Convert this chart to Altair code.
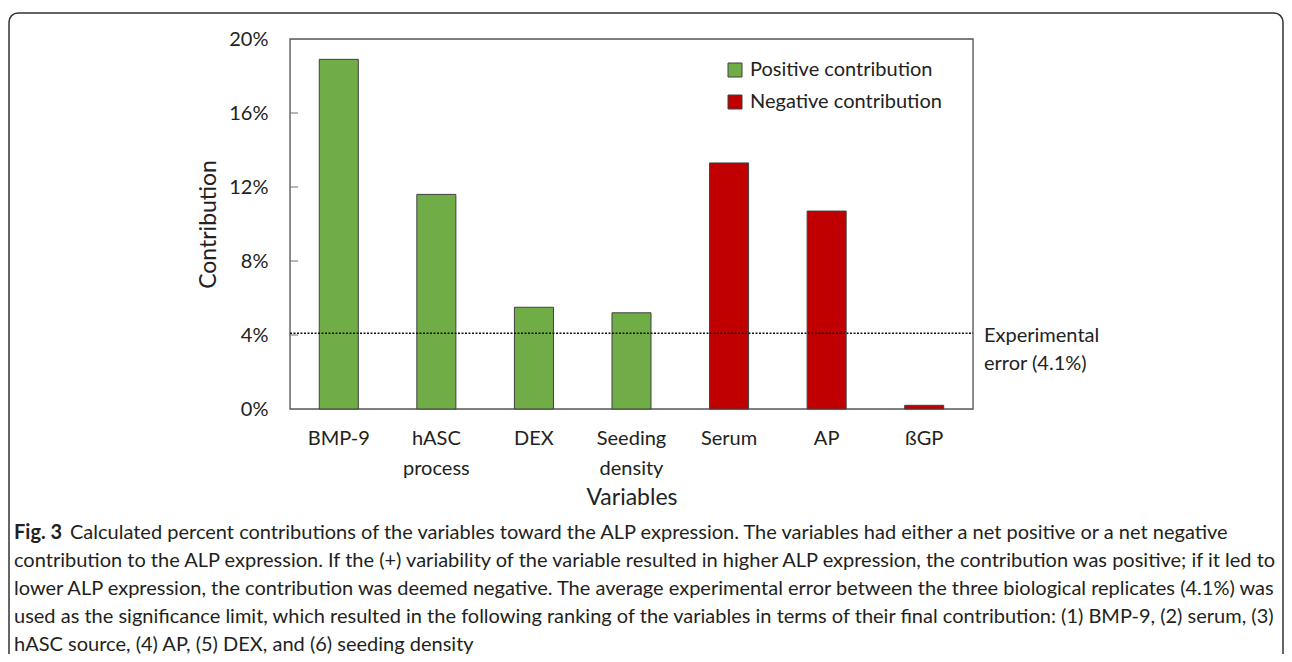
import altair as alt
import pandas as pd

# ---------------- data ----------------
categories = ["BMP-9", "hASC\nprocess", "DEX", "Seeding\ndensity", "Serum", "AP", "ßGP"]
contributions = [18.9, 11.6, 5.5, 5.2, 13.3, 10.7, 0.2]
effects = ["Positive contribution", "Positive contribution", "Positive contribution",
           "Positive contribution", "Negative contribution", "Negative contribution",
           "Negative contribution"]
effect_order = ["Positive contribution", "Negative contribution"]
effect_colors = ["#70AD47", "#C00000"]
y_ticks = [0, 4, 8, 12, 16, 20]
experimental_error = [4.1]
error_label = ["Experimental", "error (4.1%)"]
fig_label = "Fig. 3"
caption_lines = [
    "Calculated percent contributions of the variables toward the ALP expression. The variables had either a net positive or a net negative",
    "contribution to the ALP expression. If the (+) variability of the variable resulted in higher ALP expression, the contribution was positive; if it led to",
    "lower ALP expression, the contribution was deemed negative. The average experimental error between the three biological replicates (4.1%) was",
    "used as the significance limit, which resulted in the following ranking of the variables in terms of their final contribution: (1) BMP-9, (2) serum, (3)",
    "hASC source, (4) AP, (5) DEX, and (6) seeding density",
]

CHART_FONT = "Lato"
CAP_FONT = "Lato"
CAP_SIZE = 20
TXT = "#222222"

df = pd.DataFrame({"Variable": categories, "Contribution": contributions, "Effect": effects})
tick_df = pd.DataFrame({"Contribution": y_ticks[1:-1]})
err_df = pd.DataFrame({"Contribution": experimental_error})
one = pd.DataFrame({"a": [0]})

x_enc = alt.X(
    "Variable:N",
    sort=categories,
    scale=alt.Scale(domain=categories, paddingInner=0.6, paddingOuter=0.3),
    axis=alt.Axis(
        title="Variables", domain=False, ticks=False, labelAngle=0,
        labelExpr="split(datum.label, '\\n')", labelLineHeight=30,
        labelFontSize=20, labelPadding=19, labelColor=TXT, labelFont=CHART_FONT,
        titleFontSize=23, titleFontWeight="normal", titleColor=TXT, titleFont=CHART_FONT,
        titleY=88, titleBaseline="middle",
    ),
)
y_scale = alt.Scale(domain=[0, 20], nice=False, zero=True)
y_enc = alt.Y(
    "Contribution:Q",
    scale=y_scale,
    axis=alt.Axis(
        title="Contribution", values=y_ticks, grid=False, domain=False,
        ticks=True, tickSize=0, labelPadding=22, labelExpr="datum.value + '%'",
        labelFontSize=20, labelColor=TXT, labelFont=CHART_FONT,
        titleFontSize=23, titleFontWeight="normal", titleColor=TXT, titleFont=CHART_FONT,
        titleX=-82, titleY=185, titleBaseline="middle", titleAlign="center", titleAngle=270,
    ),
)

plot_box = alt.Chart(one).mark_rect(
    fillOpacity=0, stroke="#595959", strokeWidth=1.3
).encode(x=alt.value(0), x2=alt.value(683), y=alt.value(0), y2=alt.value(370))

bars = alt.Chart(df).mark_bar(stroke="#404040", strokeWidth=1).encode(
    x=x_enc,
    y=y_enc,
    color=alt.Color(
        "Effect:N",
        scale=alt.Scale(domain=effect_order, range=effect_colors),
        legend=alt.Legend(
            title=None, orient="none", legendX=435, legendY=21,
            symbolType="square", symbolSize=196, symbolStrokeColor="#404040",
            symbolStrokeWidth=1, symbolOpacity=1, labelFontSize=20, labelColor=TXT,
            labelFont=CHART_FONT, labelOffset=5, rowPadding=12, labelLimit=400,
        ),
    ),
)

inner_ticks = alt.Chart(tick_df).mark_rule(color="#707070", strokeWidth=1).encode(
    y=alt.Y("Contribution:Q", scale=y_scale), x=alt.value(0), x2=alt.value(8)
)

err_line = alt.Chart(err_df).mark_rule(color="#111111", strokeWidth=1.5, strokeDash=[2, 1.5]).encode(
    y=alt.Y("Contribution:Q", scale=y_scale), x=alt.value(0), x2=alt.value(683)
)

err_text = alt.Chart(err_df).mark_text(
    align="left", baseline="middle", fontSize=20, font=CHART_FONT, color=TXT,
    lineHeight=28, dy=3,
).encode(
    y=alt.Y("Contribution:Q", scale=y_scale), x=alt.value(694), text=alt.value(error_label)
)

border = alt.Chart(one).mark_rect(
    fillOpacity=0, stroke="#333333", strokeWidth=1.5, cornerRadius=9
).encode(x=alt.value(-281), x2=alt.value(993), y=alt.value(-26), y2=alt.value(700))

CAP_Y0 = 494
CAP_DY = 28
cap_layers = []
for i, line in enumerate(caption_lines):
    x0 = -220 if i == 0 else -276
    cap_layers.append(
        alt.Chart(pd.DataFrame({"line": [line]})).mark_text(
            align="left", baseline="middle", fontSize=CAP_SIZE, font=CAP_FONT, color="#231f20"
        ).encode(x=alt.value(x0), y=alt.value(CAP_Y0 + i * CAP_DY), text="line:N")
    )
fig_text = alt.Chart(one).mark_text(
    align="left", baseline="middle", fontSize=CAP_SIZE, font=CAP_FONT, fontWeight="bold", color="#231f20"
).encode(x=alt.value(-276), y=alt.value(CAP_Y0), text=alt.value(fig_label))

chart = alt.layer(
    border, plot_box, bars, inner_ticks, err_line, err_text, fig_text, *cap_layers
).properties(
    width=683, height=370,
    autosize=alt.AutoSizeParams(type="none"),
    padding={"left": 282, "top": 31, "right": 311, "bottom": 245},
).configure_view(stroke="#595959", strokeWidth=1.3).configure(background="white")

chart.save("out.html", embed_options={"renderer": "svg", "actions": False})
